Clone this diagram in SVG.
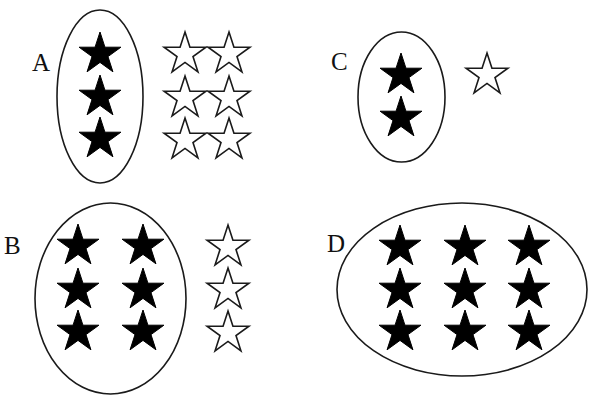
<svg xmlns="http://www.w3.org/2000/svg" xmlns:xlink="http://www.w3.org/1999/xlink" width="592" height="396" viewBox="0 0 592 396">
<style>
.ell{fill:none;stroke:#1a1a1a;stroke-width:1.6}
.solid{fill:#000;stroke:#000;stroke-width:1}
.open{fill:#fff;stroke:#1a1a1a;stroke-width:1.6}
.lbl{font-family:"Liberation Serif","Times New Roman",serif;font-size:25px;fill:#111}
</style>
<defs>
<path id="star" d="M0,-22 L4.94,-6.8 L20.92,-6.8 L7.99,2.6 L12.93,17.8 L0,8.4 L-12.93,17.8 L-7.99,2.6 L-20.92,-6.8 L-4.94,-6.8 Z"/>
</defs>
<rect width="592" height="396" fill="#fff"/>
<g id="A">
<text class="lbl" x="32" y="71">A</text>
<ellipse class="ell" cx="100" cy="96.5" rx="43" ry="86.5"/>
<use href="#star" class="solid" x="100" y="54"/>
<use href="#star" class="solid" x="100" y="97"/>
<use href="#star" class="solid" x="100" y="139"/>
<use href="#star" class="open" x="185" y="54"/>
<use href="#star" class="open" x="229" y="54"/>
<use href="#star" class="open" x="185" y="98"/>
<use href="#star" class="open" x="229" y="98"/>
<use href="#star" class="open" x="185" y="140"/>
<use href="#star" class="open" x="229" y="140"/>
</g>
<g id="C">
<text class="lbl" x="331" y="70">C</text>
<ellipse class="ell" cx="401.5" cy="97" rx="43.5" ry="65"/>
<use href="#star" class="solid" x="401" y="75"/>
<use href="#star" class="solid" x="401" y="118"/>
<use href="#star" class="open" x="487" y="75"/>
</g>
<g id="B">
<text class="lbl" x="4" y="254">B</text>
<ellipse class="ell" cx="110.5" cy="298.5" rx="75.5" ry="95.5"/>
<use href="#star" class="solid" x="78" y="246"/>
<use href="#star" class="solid" x="143" y="246"/>
<use href="#star" class="solid" x="78" y="290"/>
<use href="#star" class="solid" x="143" y="290"/>
<use href="#star" class="solid" x="78" y="332"/>
<use href="#star" class="solid" x="143" y="332"/>
<use href="#star" class="open" x="228" y="247"/>
<use href="#star" class="open" x="228" y="290"/>
<use href="#star" class="open" x="228" y="333"/>
</g>
<g id="D">
<text class="lbl" x="327" y="252">D</text>
<ellipse class="ell" cx="462" cy="289.5" rx="125" ry="86.5"/>
<use href="#star" class="solid" x="400" y="247"/>
<use href="#star" class="solid" x="465" y="247"/>
<use href="#star" class="solid" x="529" y="247"/>
<use href="#star" class="solid" x="400" y="290"/>
<use href="#star" class="solid" x="465" y="290"/>
<use href="#star" class="solid" x="529" y="290"/>
<use href="#star" class="solid" x="400" y="332"/>
<use href="#star" class="solid" x="465" y="332"/>
<use href="#star" class="solid" x="529" y="332"/>
</g>
<g id="connectors"/>
</svg>
